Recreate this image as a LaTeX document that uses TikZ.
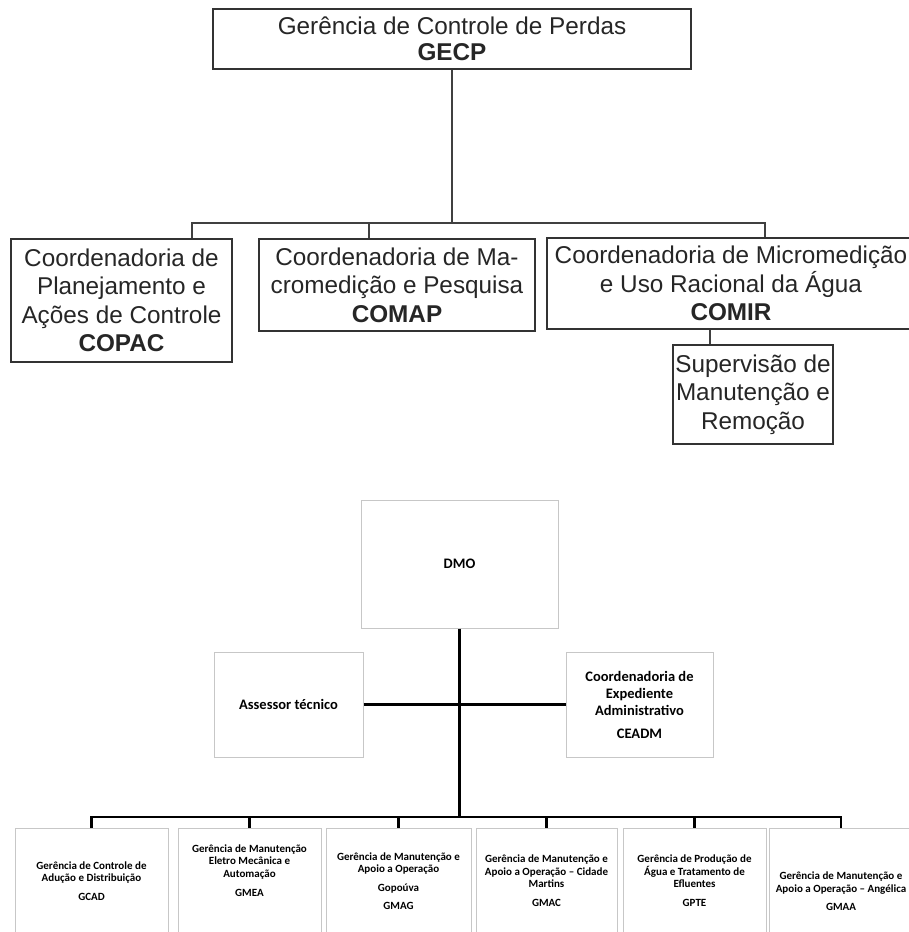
\documentclass[tikz,border=0pt]{standalone}
\usepackage{fontspec}
\setmainfont{Liberation Sans}
\newfontfamily\calibri{Carlito}
\usetikzlibrary{shadows}

\begin{document}
\begin{tikzpicture}[x=1pt,y=-1pt,
  box/.style={draw=black!80,line width=1.6pt,text=black!85,align=center,inner sep=0pt,
    font=\fontsize{24.3}{28.5}\selectfont},
  conn/.style={draw=black!75,line width=1.3pt},
  org/.style={draw=black!22,line width=1pt,fill=white,align=center,inner sep=0pt,
    drop shadow={shadow xshift=1.2pt,shadow yshift=-1.2pt,opacity=0.2},
    font=\calibri\bfseries\fontsize{11}{12.5}\selectfont},
  mid/.style={org,font=\calibri\bfseries\fontsize{14.5}{17}\selectfont},
  bar/.style={draw=black,line width=2.6pt}]
\useasboundingbox[fill=white] (0,0) rectangle (909,932);
\clip (0,0) rectangle (909,932);

\node[box,minimum width=478,minimum height=60,font=\fontsize{24.3}{26}\selectfont] (gecp) at (452,39)
  {Gerência de Controle de Perdas\\\textbf{GECP}};
\node[box,minimum width=221,minimum height=123] (copac) at (121.5,300.5)
  {Coordenadoria de\\Planejamento e\\Ações de Controle\\\textbf{COPAC}};
\node[box,minimum width=276,minimum height=92] (comap) at (397,285)
  {Coordenadoria de Ma-\\cromedição e Pesquisa\\\textbf{COMAP}};
\node[box,minimum width=368,minimum height=91] (comir) at (731,283.5)
  {Coordenadoria de Micromedição\\e Uso Racional da Água\\\textbf{COMIR}};
\node[box,minimum width=160,minimum height=99] (superv) at (753,394.5)
  {Supervisão de\\Manutenção e\\Remoção};

\coordinate (topbus) at (452,223);
\draw[conn] (gecp) -- (topbus);
\draw[conn] ([xshift=70.5pt]copac.north) |- (topbus) -| ([xshift=34pt]comir.north);
\draw[conn] ([xshift=-28pt]comap.north) -- ([xshift=-28pt]comap.north |- topbus);
\draw[conn] ([xshift=-21pt]comir.south) -- ([xshift=-21pt]comir.south |- superv.north);

\node[mid,minimum width=197,minimum height=128] (dmo) at (459.5,564) {DMO};
\node[mid,minimum width=149,minimum height=105] (assessor) at (288.5,704.5) {Assessor técnico};
\node[mid,minimum width=147,minimum height=105] (ceadm) at (639.5,704.5)
  {Coordenadoria de\\Expediente\\Administrativo\\[6pt]CEADM};

\node[org,minimum width=153,minimum height=106] (gcad) at (91.5,881)
  {Gerência de Controle de\\Adução e Distribuição\\[6.5pt]GCAD};
\node[org,minimum width=143,minimum height=106,text depth=21pt] (gmea) at (249.5,881)
  {Gerência de Manutenção\\Eletro Mecânica e\\Automação\\[6.5pt]GMEA};
\node[org,minimum width=145,minimum height=106] (gmag) at (398.5,881)
  {Gerência de Manutenção e\\Apoio a Operação\\[6pt]Gopoúva\\[6pt]GMAG};
\node[org,minimum width=141,minimum height=106] (gmac) at (546.5,881)
  {Gerência de Manutenção e\\Apoio a Operação – Cidade\\Martins\\[6.5pt]GMAC};
\node[org,minimum width=143,minimum height=106] (gpte) at (694.5,881)
  {Gerência de Produção de\\Água e Tratamento de\\Efluentes\\[6.5pt]GPTE};
\node[org,minimum width=144,minimum height=106,text height=60pt] (gmaa) at (841,881)
  {Gerência de Manutenção e\\Apoio a Operação – Angélica\\[6pt]GMAA};

\coordinate (lowbus) at (459.5,817);
\draw[bar] (dmo) -- (lowbus);
\draw[bar] (assessor) -- (ceadm);
\draw[bar] (gcad.north) |- (lowbus) -| (gmaa.north);
\foreach \n in {gmea,gmag,gmac,gpte}{
  \draw[bar] (\n.north) -- (\n.north |- lowbus);
}
\end{tikzpicture}
\end{document}
